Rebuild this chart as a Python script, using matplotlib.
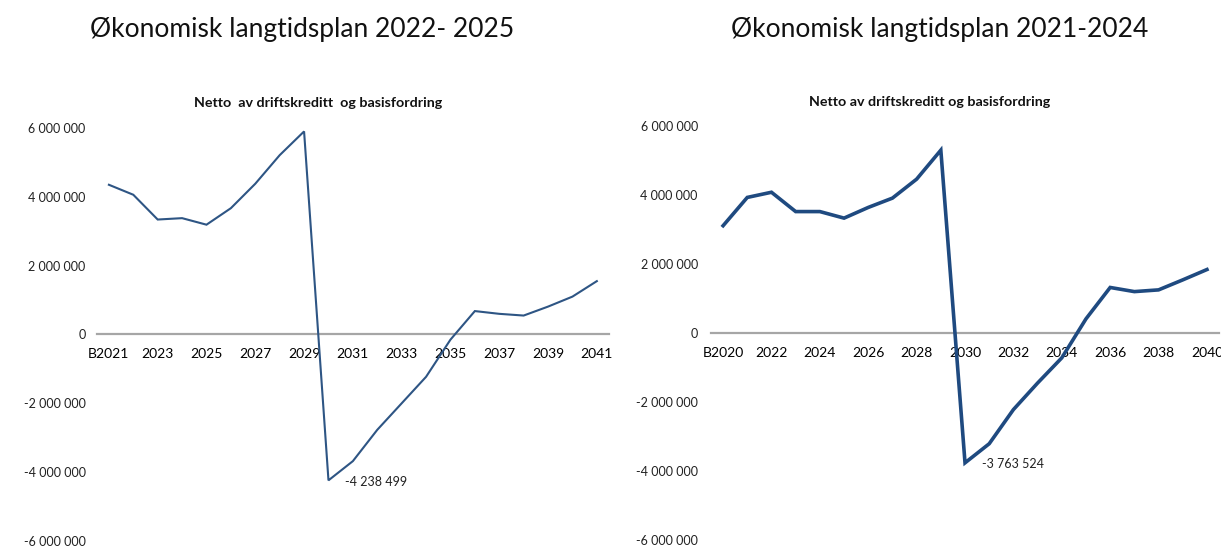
import matplotlib.pyplot as plt
import numpy as np

plt.rcParams['font.family'] = ['Lato', 'DejaVu Sans']

# Økonomisk langtidsplan 2022-2025
years_a = ['B2021'] + [str(y) for y in range(2022, 2042)]
netto_a = [4350000, 4060000, 3340000, 3380000, 3190000, 3670000, 4380000,
           5210000, 5900000, -4238499, -3680000, -2770000, -2000000,
           -1230000, -150000, 680000, 600000, 550000, 810000, 1100000, 1550000]

# Økonomisk langtidsplan 2021-2024
years_b = ['B2020'] + [str(y) for y in range(2021, 2041)]
netto_b = [3110000, 3930000, 4080000, 3520000, 3520000, 3330000, 3640000,
           3910000, 4460000, 5300000, -3763524, -3210000, -2220000,
           -1450000, -720000, 410000, 1320000, 1200000, 1250000, 1540000, 1840000]

yticks = [-6000000, -4000000, -2000000, 0, 2000000, 4000000, 6000000]


def fmt(v):
    s = '{:,}'.format(abs(int(v))).replace(',', ' ')
    return ('-' if v < 0 else '') + s


def draw(ax, years, values, color, lw, ypad):
    x = np.arange(len(years))
    ax.plot(x, values, color=color, linewidth=lw, solid_joinstyle='miter')
    ax.set_xlim(-0.5, len(years) - 0.5)
    ax.set_ylim(-6000000, 6000000)
    ax.set_xticks(x[::2])
    ax.set_xticklabels(years[::2], fontsize=9, color='#222222')
    ax.set_yticks(yticks)
    ax.set_yticklabels([fmt(v) for v in yticks], fontsize=9, color='#222222')
    for side in ['top', 'right', 'left']:
        ax.spines[side].set_visible(False)
    ax.spines['bottom'].set_position(('data', 0))
    ax.spines['bottom'].set_color('#a6a6a6')
    ax.spines['bottom'].set_linewidth(1.6)
    ax.spines['bottom'].set_zorder(0)
    ax.tick_params(axis='x', length=0, pad=10)
    ax.tick_params(axis='y', length=0, pad=ypad)
    # label on the lowest point
    i = int(np.argmin(values))
    ax.annotate(fmt(values[i]), (x[i], values[i]), xytext=(12, -1),
                textcoords='offset points', fontsize=9, color='#222222',
                ha='left', va='center')
    ax.patch.set_visible(False)


fig = plt.figure(figsize=(12.21, 5.46), dpi=100)

ax1 = fig.add_axes([0.0792, 0.0092, 0.4196, 0.7564])
draw(ax1, years_a, netto_a, '#2e5584', 1.5, 8)

ax2 = fig.add_axes([0.5823, 0.0110, 0.4161, 0.7582])
draw(ax2, years_b, netto_b, '#1f4a80', 2.6, 9.5)

fig.text(302 / 1221, 1 - 29 / 546, 'Økonomisk langtidsplan 2022- 2025',
         fontsize=19, ha='center', va='center', color='#111111')
fig.text(940 / 1221, 1 - 29 / 546, 'Økonomisk langtidsplan 2021-2024',
         fontsize=19, ha='center', va='center', color='#111111')
fig.text(318 / 1221, 1 - 103 / 546, 'Netto  av driftskreditt  og basisfordring',
         fontsize=10.3, fontweight='bold', ha='center', va='center', color='#111111')
fig.text(930 / 1221, 1 - 102 / 546, 'Netto av driftskreditt og basisfordring',
         fontsize=10.3, fontweight='bold', ha='center', va='center', color='#111111')

fig.savefig('out.png', dpi=100)
